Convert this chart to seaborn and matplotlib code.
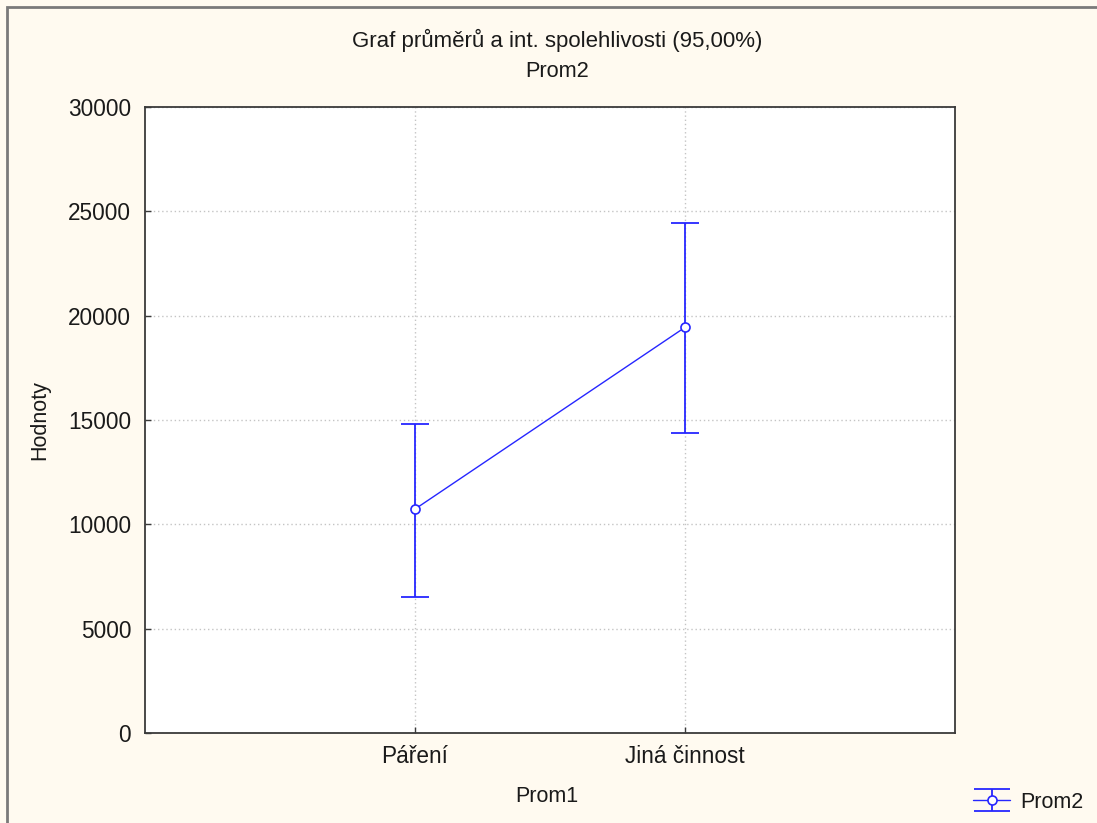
import matplotlib
matplotlib.use("Agg")
import matplotlib.pyplot as plt
from matplotlib.patches import Rectangle
from matplotlib.legend_handler import HandlerTuple, HandlerErrorbar, HandlerLine2D
from matplotlib.container import ErrorbarContainer
from matplotlib.lines import Line2D
import seaborn as sns
import pandas as pd
import numpy as np

# Group means with 95% confidence limits
categories = ["Páření", "Jiná činnost"]
means = [10730, 19440]
ci_low = [6530, 14360]
ci_high = [14790, 24460]
y_ticks = [0, 5000, 10000, 15000, 20000, 25000, 30000]

title_text = "Graf průměrů a int. spolehlivosti (95,00%)"
subtitle_text = "Prom2"
x_label = "Prom1"
y_label = "Hodnoty"
series_name = "Prom2"

sns.set_theme(style="white")
plt.rcParams["font.family"] = ["Liberation Sans", "DejaVu Sans"]

blue = "#2626ff"
bg = "#fffaf0"
txt = "#1a1a1a"

fig = plt.figure(figsize=(10.97, 8.23), dpi=100, facecolor=bg)
ax = fig.add_axes([0.1322, 0.1094, 0.7384, 0.7606])
ax.set_facecolor("white")

df = pd.DataFrame({"Prom1": categories, "Prom2": means})
sns.pointplot(data=df, x="Prom1", y="Prom2", errorbar=None, color=blue,
              markers="o", linestyles="-", ax=ax,
              markerfacecolor="white", markeredgecolor=blue,
              markersize=6.5, markeredgewidth=1.2, linewidth=1.0, zorder=4)
line = ax.lines[-1]

lo_err = np.array(means) - np.array(ci_low)
hi_err = np.array(ci_high) - np.array(means)
eb = ax.errorbar(np.arange(len(categories)), means, yerr=[lo_err, hi_err],
                 fmt="none", ecolor=blue, elinewidth=1.3, capsize=10,
                 capthick=1.3, zorder=3)

ax.set_xlim(-1, 2)
ax.set_ylim(0, 30000)
ax.set_yticks(y_ticks)
ax.set_xticks(range(len(categories)))
ax.set_xticklabels(categories)

ax.grid(True, which="major", color="#c4c4c4", linestyle=(0, (1, 2)), linewidth=1.0)
ax.set_axisbelow(True)
for s in ax.spines.values():
    s.set_color("#3a3a3a")
    s.set_linewidth(1.3)
    s.set_visible(True)

ax.tick_params(axis="both", direction="in", length=4, width=1, color="#3a3a3a",
               labelsize=16.3, labelcolor=txt)
ax.tick_params(axis="y", pad=10)
ax.tick_params(axis="x", pad=9)
ax.tick_params(left=True, bottom=True)

ax.set_xlabel(x_label, fontsize=15.5, color=txt)
ax.set_ylabel(y_label, fontsize=15.5, color=txt)
ax.xaxis.set_label_coords(0.496, -0.102)
ax.xaxis.label.set_va("center")
ax.yaxis.set_label_coords(-0.1296, 0.5)
ax.yaxis.label.set_va("center")

fig.text(0.508, 0.951, title_text, ha="center", va="center", fontsize=16.0, color=txt)
fig.text(0.508, 0.913, subtitle_text, ha="center", va="center", fontsize=15.7, color=txt)


def widen_caps(handle, orig):
    handle.update_from(orig)
    if isinstance(handle, Line2D) and handle.get_marker() == "_":
        handle.set_markersize(26.6)


leg = fig.legend([(eb, line)], [series_name], loc="center left",
                 bbox_to_anchor=(0.887, 0.0255), frameon=False, fontsize=15.5,
                 borderpad=0, borderaxespad=0,
                 handlelength=1.72, handletextpad=0.45,
                 labelcolor=txt,
                 handler_map={tuple: HandlerTuple(ndivide=1),
                              ErrorbarContainer: HandlerErrorbar(update_func=widen_caps)})

# Window frame along the top and left edges
fig.patches.append(Rectangle((0.0065, -0.2), 1.5, 0.2 + 1 - 0.0085,
                             transform=fig.transFigure, fill=False,
                             edgecolor="#7a7a7a", linewidth=2.0, zorder=0))

fig.savefig("out.png", dpi=100, facecolor=bg)
